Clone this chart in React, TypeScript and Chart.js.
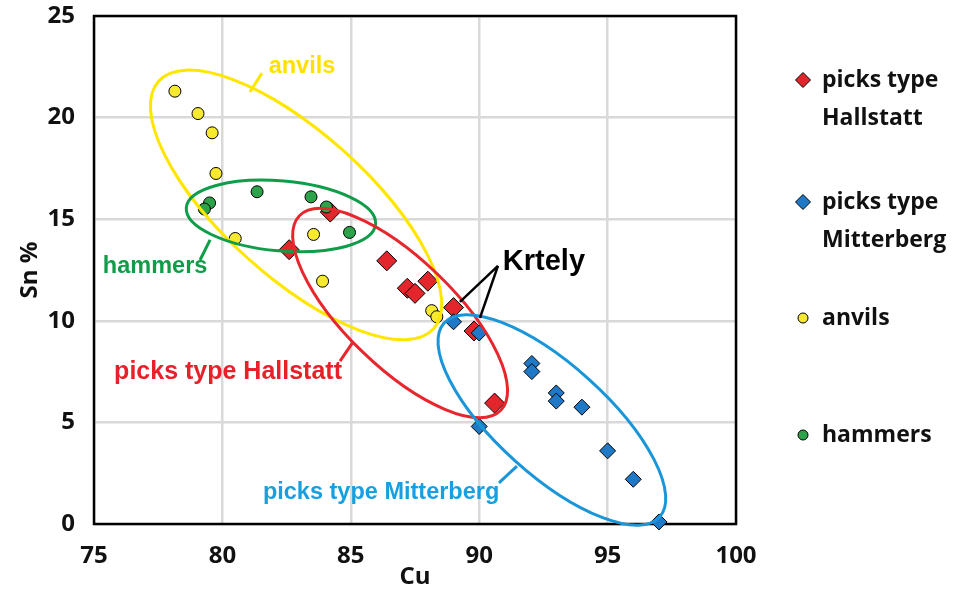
import React, { useEffect, useRef } from 'react';
import { Chart, registerables } from 'chart.js';
Chart.register(...registerables);

// ---- data ----
const hallstattCu = [84.2, 82.6, 86.4, 88.0, 87.2, 87.5, 89.0, 89.8, 90.6];
const hallstattSn = [15.35, 13.5, 12.95, 11.95, 11.6, 11.35, 10.65, 9.5, 5.95];
const mitterbergCu = [89.0, 90.0, 92.05, 92.05, 93.0, 93.0, 94.0, 90.0, 95.0, 96.0, 97.0];
const mitterbergSn = [9.95, 9.4, 7.9, 7.5, 6.45, 6.05, 5.75, 4.8, 3.6, 2.2, 0.1];
const anvilsCu = [78.15, 79.05, 79.6, 79.75, 80.5, 83.55, 83.9, 88.15, 88.35];
const anvilsSn = [21.3, 20.2, 19.25, 17.25, 14.05, 14.25, 11.95, 10.5, 10.2];
const hammersCu = [79.5, 79.3, 81.35, 83.45, 84.05, 84.95];
const hammersSn = [15.8, 15.5, 16.35, 16.1, 15.6, 14.35];

const seriesNames = ['picks type Hallstatt', 'picks type Mitterberg', 'anvils', 'hammers'];
const legendLines = [['picks type', 'Hallstatt'], ['picks type', 'Mitterberg'], ['anvils'], ['hammers']];
const xTicks = [75, 80, 85, 90, 95, 100];
const yTicks = [0, 5, 10, 15, 20, 25];
const xTitle = 'Cu';
const yTitle = 'Sn %';

// ---- annotations (data-space anchors) ----
const ellipses = [
  { cu: 82.87, sn: 15.7, rx: 185, ry: 72, angle: 42, color: '#ffe600' },
  { cu: 82.28, sn: 15.16, rx: 95, ry: 35, angle: 5, color: '#0f9d4a' },
  { cu: 86.92, sn: 10.38, rx: 140, ry: 54, angle: 44, color: '#e8262d' },
  { cu: 92.83, sn: 5.12, rx: 145, ry: 55, angle: 42, color: '#1a96d8' },
];
const noteTexts = [
  { text: 'anvils', cu: 83.1, sn: 22.49, color: '#ffe000', size: 23.5 },
  { text: 'hammers', cu: 77.38, sn: 12.65, color: '#109c48', size: 23.5 },
  { text: 'picks type Hallstatt', cu: 80.22, sn: 7.48, color: '#e8202a', size: 25 },
  { text: 'picks type Mitterberg', cu: 86.18, sn: 1.57, color: '#17a0e0', size: 23.5 },
  { text: 'Krtely', cu: 92.52, sn: 12.89, color: '#000000', size: 29 },
];
const leaders = [
  { a: [81.07, 21.26], b: [81.54, 22.19], color: '#ffe600' },
  { a: [79.52, 13.98], b: [79.13, 12.99], color: '#0f9d4a' },
  { a: [85.09, 8.96], b: [84.58, 8.02], color: '#e8262d' },
  { a: [91.47, 2.85], b: [90.77, 2.02], color: '#1a96d8' },
  { a: [90.73, 12.7], b: [89.25, 10.93], color: '#000000' },
  { a: [90.73, 12.7], b: [90.03, 10.14], color: '#000000' },
];

const fills = ['#e3262b', '#2079c7', '#f7ea2e', '#2ca34a'];
const pstyles = ['rectRot', 'rectRot', 'circle', 'circle'];
const radii = [10, 8, 6, 6];
const legendY = [80, 202, 318, 435];

const FONT = '"Open Sans", "DejaVu Sans", sans-serif';

const annotPlugin = {
  id: 'annot',
  beforeDatasetsDraw(chart: any) {
    const { ctx, chartArea: ca } = chart;
    ctx.save();
    ctx.strokeStyle = '#000';
    ctx.lineWidth = 2.5;
    ctx.strokeRect(ca.left, ca.top, ca.right - ca.left, ca.bottom - ca.top);
    ctx.restore();
  },
  afterDatasetsDraw(chart: any) {
    const { ctx } = chart;
    const xs = chart.scales.x;
    const ys = chart.scales.y;
    ctx.save();
    for (const e of ellipses) {
      ctx.beginPath();
      ctx.ellipse(xs.getPixelForValue(e.cu), ys.getPixelForValue(e.sn), e.rx, e.ry, (e.angle * Math.PI) / 180, 0, Math.PI * 2);
      ctx.strokeStyle = e.color;
      ctx.lineWidth = 3;
      ctx.stroke();
    }
    for (const l of leaders) {
      ctx.beginPath();
      ctx.moveTo(xs.getPixelForValue(l.a[0]), ys.getPixelForValue(l.a[1]));
      ctx.lineTo(xs.getPixelForValue(l.b[0]), ys.getPixelForValue(l.b[1]));
      ctx.strokeStyle = l.color;
      ctx.lineWidth = l.color === '#000000' ? 2.5 : 3;
      ctx.stroke();
    }
    ctx.textAlign = 'center';
    ctx.textBaseline = 'middle';
    for (const t of noteTexts) {
      ctx.font = `bold ${t.size}px "Liberation Sans", Arial, sans-serif`;
      ctx.fillStyle = t.color;
      ctx.fillText(t.text, xs.getPixelForValue(t.cu), ys.getPixelForValue(t.sn));
    }
    ctx.restore();
  },
  afterDraw(chart: any) {
    const { ctx } = chart;
    ctx.save();
    chart.data.datasets.forEach((ds: any, i: number) => {
      const mx = 803;
      const my = legendY[i];
      ctx.fillStyle = ds.backgroundColor;
      ctx.strokeStyle = '#000';
      ctx.lineWidth = 1;
      ctx.beginPath();
      if (ds.pointStyle === 'rectRot') {
        const r = 7.5;
        ctx.moveTo(mx - r, my);
        ctx.lineTo(mx, my - r);
        ctx.lineTo(mx + r, my);
        ctx.lineTo(mx, my + r);
        ctx.closePath();
      } else {
        ctx.arc(mx, my, 5, 0, Math.PI * 2);
      }
      ctx.fill();
      ctx.stroke();
      ctx.fillStyle = '#111';
      ctx.font = `bold 23px ${FONT}`;
      ctx.textAlign = 'left';
      ctx.textBaseline = 'middle';
      legendLines[i].forEach((ln, k) => ctx.fillText(ln, 822, my + k * 38));
    });
    ctx.restore();
  },
};

export default function App() {
  const ref = useRef<HTMLCanvasElement>(null);
  useEffect(() => {
    if (!ref.current) return;
    const xsArr = [hallstattCu, mitterbergCu, anvilsCu, hammersCu];
    const ysArr = [hallstattSn, mitterbergSn, anvilsSn, hammersSn];
    const orders = [3, 2, 1, 0];
    const datasets = seriesNames.map((name, i) => ({
      label: name,
      data: xsArr[i].map((x, k) => ({ x, y: ysArr[i][k] })),
      backgroundColor: fills[i],
      borderColor: '#000',
      borderWidth: 1,
      pointStyle: pstyles[i],
      pointRadius: radii[i],
      order: orders[i],
      clip: false,
    }));
    const chart = new Chart(ref.current, {
      type: 'scatter',
      data: { datasets },
      options: {
        animation: false,
        responsive: false,
        layout: { padding: { top: 16, right: 221, left: 0, bottom: 0 } },
        plugins: { legend: { display: false }, tooltip: { enabled: false } },
        scales: {
          x: {
            type: 'linear',
            min: xTicks[0],
            max: xTicks[xTicks.length - 1],
            afterBuildTicks: (s: any) => { s.ticks = xTicks.map((v) => ({ value: v })); },
            afterFit: (s: any) => { s.height = 70; s.paddingLeft = 0; s.paddingRight = 0; },
            ticks: { padding: 18, color: '#111', font: { family: FONT, size: 24, weight: 'bold' } },
            grid: { color: '#d9d9d9', lineWidth: 2.5, drawTicks: false },
            border: { display: false },
            title: { display: true, text: xTitle, color: '#111', font: { family: FONT, size: 24, weight: 'bold' }, padding: { top: 0, bottom: 2 } },
          },
          y: {
            type: 'linear',
            min: yTicks[0],
            max: yTicks[yTicks.length - 1],
            afterBuildTicks: (s: any) => { s.ticks = yTicks.map((v) => ({ value: v })); },
            afterFit: (s: any) => { s.width = 94; s.paddingTop = 0; s.paddingBottom = 0; },
            ticks: { padding: 19, color: '#111', font: { family: FONT, size: 24, weight: 'bold' } },
            grid: { color: '#d9d9d9', lineWidth: 2.5, drawTicks: false },
            border: { display: false },
            title: { display: true, text: yTitle, color: '#111', font: { family: FONT, size: 24, weight: 'bold' }, padding: { top: 16, bottom: 0 } },
          },
        },
      } as any,
      plugins: [annotPlugin],
    });
    return () => chart.destroy();
  }, []);
  return (
    <div style={{ position: 'absolute', left: 0, top: 0, width: 957, height: 594, background: '#fff' }}>
      <canvas ref={ref} width={957} height={594} style={{ display: 'block' }} />
    </div>
  );
}
